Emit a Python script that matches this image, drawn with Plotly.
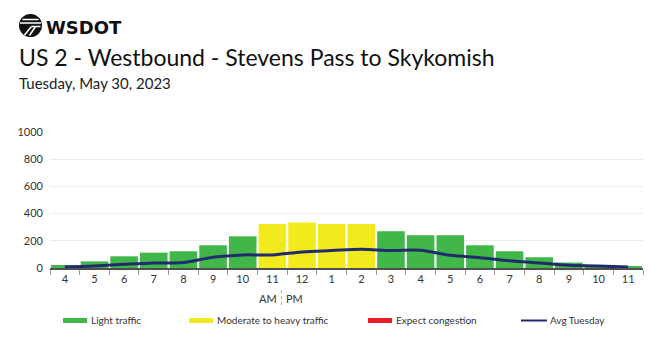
import plotly.graph_objects as go

# Hourly volumes, 4 AM through 11 PM
hour_labels = ["4", "5", "6", "7", "8", "9", "10", "11", "12", "1",
               "2", "3", "4", "5", "6", "7", "8", "9", "10", "11"]
volumes = [22, 49, 86, 113, 123, 167, 233, 324, 334, 324,
           324, 270, 240, 240, 167, 123, 79, 40, 22, 12]
avg_tuesday = [7, 15, 27, 37, 40, 79, 96, 96, 118, 128,
               137, 128, 130, 93, 76, 54, 37, 20, 15, 7]
# traffic level per hour: L = light, M = moderate to heavy, C = congestion
levels = ["L", "L", "L", "L", "L", "L", "L", "M", "M", "M",
          "M", "L", "L", "L", "L", "L", "L", "L", "L", "L"]
y_ticks = [0, 200, 400, 600, 800, 1000]

GREEN = "#41b649"
YELLOW = "#f3ea1d"
RED = "#ed1c24"
NAVY = "#212a6c"
level_color = {"L": GREEN, "M": YELLOW, "C": RED}

W, H = 650, 337
ML, MR, MT, MB = 50, 7, 132, 69
PW, PH = W - ML - MR, H - MT - MB


def px(x):
    return (x - ML) / PW


def py(y):
    return (H - MB - y) / PH


xs = list(range(len(hour_labels)))

fig = go.Figure()
fig.add_trace(go.Bar(
    x=xs, y=volumes,
    marker=dict(color=[level_color[l] for l in levels], line=dict(width=0)),
    hoverinfo="y", showlegend=False,
))
fig.add_trace(go.Scatter(
    x=xs, y=avg_tuesday, mode="lines",
    line=dict(color=NAVY, width=3, shape="spline", smoothing=1.0),
    showlegend=False,
))

FONT = "Lato, 'Open Sans', sans-serif"

fig.update_layout(
    width=W, height=H,
    margin=dict(l=ML, r=MR, t=MT, b=MB, pad=0),
    paper_bgcolor="white", plot_bgcolor="white",
    font=dict(family=FONT, color="#333333", size=11),
    bargap=0.07,
    showlegend=False,
    xaxis=dict(
        range=[-0.5, len(xs) - 0.5],
        tickmode="array", tickvals=xs, ticktext=hour_labels,
        ticks="", ticklen=0,
        showgrid=False, zeroline=False,
        showline=True, linecolor="#4f4f4f", linewidth=2,
        tickfont=dict(size=11, color="#333333"),
        minor=dict(tickmode="array",
                   tickvals=[i - 0.5 for i in range(len(xs) + 1)],
                   ticks="outside", ticklen=5, tickcolor="#999999",
                   tickwidth=1, showgrid=False),
        fixedrange=True,
    ),
    yaxis=dict(
        range=[0, 1000],
        tickmode="array", tickvals=y_ticks,
        showgrid=True, gridcolor="#ececec", gridwidth=1,
        zeroline=False, showline=False,
        ticks="", ticklabelstandoff=6,
        tickfont=dict(size=11, color="#333333"),
        fixedrange=True,
    ),
)

annotations = []
shapes = []

# header: logo wordmark, route title, date
annotations.append(dict(text="<b>WSDOT</b>", x=px(44), y=py(27.5), xref="paper", yref="paper",
                        xanchor="left", yanchor="middle", showarrow=False,
                        font=dict(family="DejaVu Sans", size=18, color="#111111")))
annotations.append(dict(text="US 2 - Westbound - Stevens Pass to Skykomish",
                        x=px(17), y=py(57), xref="paper", yref="paper",
                        xanchor="left", yanchor="middle", showarrow=False,
                        font=dict(family=FONT, size=23, color="#111111")))
annotations.append(dict(text="Tuesday, May 30, 2023",
                        x=px(17), y=py(83), xref="paper", yref="paper",
                        xanchor="left", yanchor="middle", showarrow=False,
                        font=dict(family=FONT, size=15, color="#222222")))

# logo mark: black disc with white stripes and slash
cx, cy, r = 30.5, 25.5, 11.5
shapes.append(dict(type="circle", xref="paper", yref="paper",
                   x0=px(cx - r), x1=px(cx + r), y0=py(cy + r), y1=py(cy - r),
                   fillcolor="#111111", line=dict(width=0)))
for yy, half in [(19.5, 8), (23.0, 10.5)]:
    shapes.append(dict(type="line", xref="paper", yref="paper",
                       x0=px(cx - half), x1=px(cx + half), y0=py(yy), y1=py(yy),
                       line=dict(color="white", width=1.5)))
shapes.append(dict(type="line", xref="paper", yref="paper",
                   x0=px(cx + 1), x1=px(cx + 10), y0=py(26.5), y1=py(26.5),
                   line=dict(color="white", width=1.5)))
shapes.append(dict(type="line", xref="paper", yref="paper",
                   x0=px(cx - 6), x1=px(cx + 1), y0=py(35), y1=py(26.5),
                   line=dict(color="white", width=1.5)))
shapes.append(dict(type="line", xref="paper", yref="paper",
                   x0=px(cx - 1), x1=px(cx + 5), y0=py(35.5), y1=py(26.5),
                   line=dict(color="white", width=1.5)))

# AM / PM divider under the axis
annotations.append(dict(text="AM", x=px(279), y=py(298), xref="paper", yref="paper",
                        xanchor="right", yanchor="middle", showarrow=False,
                        font=dict(family=FONT, size=11, color="#333333")))
annotations.append(dict(text="PM", x=px(284), y=py(298), xref="paper", yref="paper",
                        xanchor="left", yanchor="middle", showarrow=False,
                        font=dict(family=FONT, size=11, color="#333333")))
shapes.append(dict(type="line", xref="paper", yref="paper",
                   x0=px(281.5), x1=px(281.5), y0=py(290), y1=py(308),
                   line=dict(color="#aaaaaa", width=1, dash="dot")))

# legend row
legend_items = [
    ("Light traffic", GREEN, 63, "bar"),
    ("Moderate to heavy traffic", YELLOW, 189, "bar"),
    ("Expect congestion", RED, 368, "bar"),
    ("Avg Tuesday", NAVY, 521, "line"),
]
LY = 320.5
for label, color, x0, kind in legend_items:
    if kind == "bar":
        shapes.append(dict(type="rect", xref="paper", yref="paper",
                           x0=px(x0), x1=px(x0 + 24), y0=py(LY + 2.5), y1=py(LY - 2.5),
                           fillcolor=color, line=dict(width=0)))
        tx = x0 + 26
    else:
        shapes.append(dict(type="line", xref="paper", yref="paper",
                           x0=px(x0), x1=px(x0 + 26), y0=py(LY), y1=py(LY),
                           line=dict(color=color, width=2)))
        tx = x0 + 27
    annotations.append(dict(text=label, x=px(tx), y=py(LY - 0.5), xref="paper", yref="paper",
                            xanchor="left", yanchor="middle", showarrow=False,
                            font=dict(family=FONT, size=10, color="#333333")))

fig.update_layout(annotations=annotations, shapes=shapes)

fig.write_html("out.html", config={"displayModeBar": False})
